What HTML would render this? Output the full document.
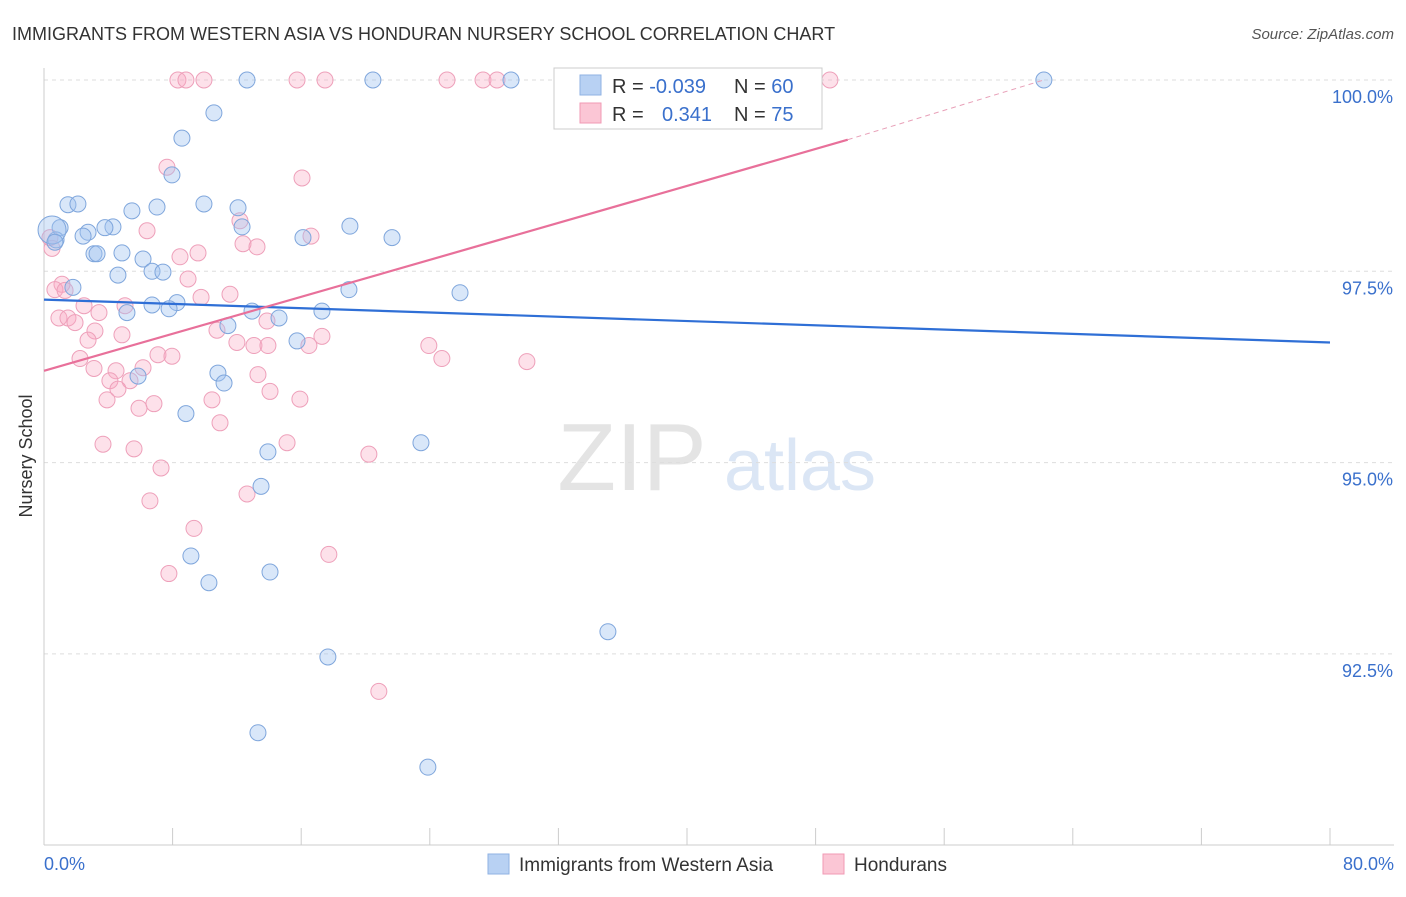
<!DOCTYPE html>
<html><head><meta charset="utf-8"><style>
body{margin:0;background:#fff;font-family:"Liberation Sans",sans-serif}
svg text{font-family:"Liberation Sans",sans-serif}
</style></head><body>
<svg width="1406" height="892" xmlns="http://www.w3.org/2000/svg">
<text x="12" y="40" font-size="18" fill="#333">IMMIGRANTS FROM WESTERN ASIA VS HONDURAN NURSERY SCHOOL CORRELATION CHART</text>
<text x="1394" y="39" font-size="15" fill="#555" font-style="italic" text-anchor="end">Source: ZipAtlas.com</text>
<text x="32" y="456" font-size="18" fill="#333" transform="rotate(-90 32 456)" text-anchor="middle">Nursery School</text>
<g><text x="632" y="490" font-size="96" fill="#e4e4e4" font-family="Liberation Serif" text-anchor="middle">ZIP</text><text x="800" y="490" font-size="72" fill="#dbe6f5" text-anchor="middle">atlas</text></g>
<g id="grid"></g><g id="marks"></g>
<g>
<rect x="554" y="68" width="268" height="61" fill="#fff" stroke="#ccc"/>
<rect x="580" y="75" width="21" height="20" fill="#b8d1f3" stroke="#8fb2e3"/>
<rect x="580" y="103" width="21" height="20" fill="#fbc6d5" stroke="#f09ab4"/>
<text x="612" y="93" font-size="20" fill="#333">R = <tspan fill="#3a70cc">-0.039</tspan></text>
<text x="734" y="93" font-size="20" fill="#333">N = <tspan fill="#3a70cc">60</tspan></text>
<text x="612" y="121" font-size="20" fill="#333">R = <tspan fill="#3a70cc" x="662">0.341</tspan></text>
<text x="734" y="121" font-size="20" fill="#333">N = <tspan fill="#3a70cc">75</tspan></text>
</g>
<g>
<rect x="488" y="854" width="21" height="20" fill="#b8d1f3" stroke="#8fb2e3"/>
<text x="519" y="871" font-size="19" fill="#333">Immigrants from Western Asia</text>
<rect x="823" y="854" width="21" height="20" fill="#fbc6d5" stroke="#f09ab4"/>
<text x="854" y="871" font-size="19" fill="#333">Hondurans</text>
</g>
</svg>
<script>
const yTicks=[100,97.5,95,92.5];
const yTickLabels=["100.0%","97.5%","95.0%","92.5%"];
const xTicks=[0,8,16,24,32,40,48,56,64,72,80];
const blueX=[12.63,20.46,29.05,62.2,10.57,8.58,7.96,1.49,2.11,7.03,9.95,12.07,5.47,12.32,19.03,1.0,4.29,3.79,2.74,2.43,0.75,16.11,21.65,4.85,3.11,3.3,6.16,4.6,6.72,7.4,1.8,18.97,25.88,6.72,8.27,7.78,5.16,12.94,17.29,11.44,14.62,15.74,5.85,10.82,11.2,8.83,23.45,13.93,13.5,9.14,10.26,14.06,35.08,17.66,13.31,23.88,0.5,0.68];
const blueY=[100,100,100,100,99.57,99.24,98.76,98.37,98.38,98.34,98.38,98.33,98.29,98.08,98.09,98.07,98.08,98.07,98.01,97.96,97.91,97.94,97.94,97.74,97.73,97.73,97.66,97.45,97.5,97.49,97.29,97.26,97.22,97.06,97.09,97.01,96.96,96.98,96.98,96.79,96.89,96.59,96.13,96.17,96.04,95.64,95.26,95.14,94.69,93.78,93.43,93.57,92.79,92.46,91.47,91.02,98.04,97.88];
const pinkX=[8.33,8.83,9.95,15.74,17.48,25.07,27.31,28.18,48.89,41.86,7.65,16.05,12.19,6.41,16.61,12.38,13.25,9.58,8.46,0.5,8.96,1.12,0.68,11.57,9.77,5.04,2.49,3.42,0.93,1.49,1.93,13.87,3.17,4.85,10.76,17.29,12.0,13.06,13.93,16.48,2.74,23.94,24.75,30.04,7.09,7.96,2.24,3.11,6.16,4.48,13.31,4.1,5.35,4.6,14.06,3.92,6.84,5.91,10.45,15.92,10.95,3.67,15.12,5.6,20.21,7.28,12.63,6.59,9.33,17.72,7.77,20.83,0.37,1.31];
const pinkY=[100,100,100,100,100,100,100,100,100,100,98.86,98.72,98.16,98.03,97.96,97.86,97.82,97.74,97.69,97.8,97.4,97.33,97.26,97.2,97.16,97.05,97.05,96.96,96.89,96.89,96.83,96.85,96.72,96.67,96.73,96.65,96.57,96.53,96.53,96.53,96.6,96.53,96.36,96.32,96.41,96.39,96.36,96.23,96.24,96.2,96.15,96.07,96.07,95.96,95.93,95.82,95.77,95.71,95.82,95.83,95.52,95.24,95.26,95.18,95.11,94.93,94.59,94.5,94.14,93.8,93.55,92.01,97.94,97.25];
const blueBig=56; // index of large bubble
const X=v=>44+v/80*1286, Y=v=>80+(100-v)/2.5*191.3;
const NS="http://www.w3.org/2000/svg";
function mk(t,a,p){const e=document.createElementNS(NS,t);for(const k in a)e.setAttribute(k,a[k]);p.appendChild(e);return e;}
const grid=document.getElementById('grid'), marks=document.getElementById('marks');
yTicks.forEach((t,i)=>{
 const l=mk('line',{x1:44,x2:1394,y1:Y(t),y2:Y(t),stroke:'#ddd','stroke-dasharray':'4,4'},grid);
 
 
 const tx=mk('text',{x:1393,y:Y(t)+23,'font-size':18,fill:'#3a70cc','text-anchor':'end'},grid);tx.textContent=yTickLabels[i];
 
 
});
const ax=mk('line',{x1:44,x2:1394,y1:845,y2:845,stroke:'#ccc'},grid);


const ay=mk('line',{x1:44,x2:44,y1:68,y2:845,stroke:'#ccc'},grid);


xTicks.forEach(t=>{const l=mk('line',{x1:X(t),x2:X(t),y1:828,y2:845,stroke:'#ccc'},grid);
 
 });
[[0,"0.0%",44,'start'],[80,"80.0%",1394,'end']].forEach(a=>{const tx=mk('text',{x:a[2],y:870,'font-size':18,fill:'#3a70cc','text-anchor':a[3]},grid);tx.textContent=a[1];
 
 });
pinkX.forEach((x,i)=>{const c=mk('circle',{cx:X(x),cy:Y(pinkY[i]),r:8,fill:'rgba(248,170,195,0.35)',stroke:'#eea0ba','stroke-width':1},marks);
 
 });
blueX.forEach((x,i)=>{const c=mk('circle',{cx:X(x),cy:Y(blueY[i]),r:i==blueBig?14:8,fill:'rgba(160,195,240,0.4)',stroke:'#7fa6dc','stroke-width':1},marks);
 
 });
const bl=mk('line',{x1:X(0),y1:Y(97.13),x2:X(80),y2:Y(96.57),stroke:'#2f6fd6','stroke-width':2.2},marks);


const pl=mk('line',{x1:X(0),y1:Y(96.2),x2:X(50),y2:Y(99.22),stroke:'#e8709a','stroke-width':2.2},marks);


const pd=mk('line',{x1:X(50),y1:Y(99.22),x2:X(62.2),y2:Y(100),stroke:'#e8a0b8','stroke-width':1,'stroke-dasharray':'5,4'},marks);


</script>
</body></html>
